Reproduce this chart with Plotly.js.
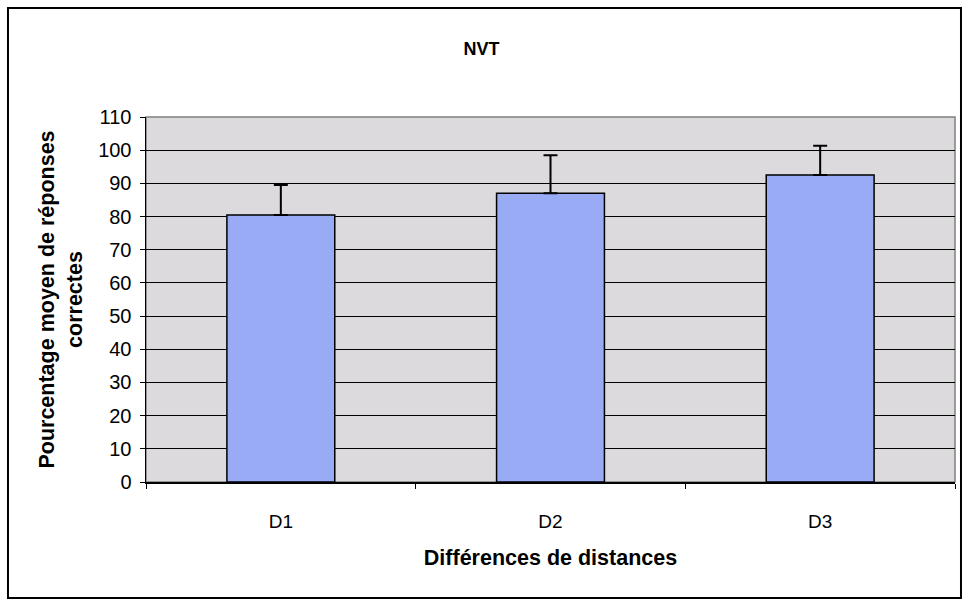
<!DOCTYPE html>
<html>
<head>
<meta charset="utf-8">
<script src="https://cdn.plot.ly/plotly-3.0.1.min.js"></script>
<style>html,body{margin:0;padding:0;background:#fff;}#chart{width:963px;height:601px;}</style>
</head>
<body>
<div id="chart"></div>
<script>
const categories = ["D1", "D2", "D3"];
const meanValues = [80.5, 87, 92.5];
const errorValues = [9, 11.5, 8.8];
const yTicks = [0, 10, 20, 30, 40, 50, 60, 70, 80, 90, 100, 110];

const trace = {
  type: "bar",
  x: categories,
  y: meanValues,
  marker: { color: "#9aabf6", line: { color: "#000000", width: 1.5 } },
  error_y: { type: "data", array: errorValues, symmetric: false, arrayminus: [0,0,0], visible: true, color: "#000000", thickness: 2, width: 7 },
  hoverinfo: "x+y"
};

const fontFam = "Liberation Sans, Arial, sans-serif";
const layout = {
  width: 963, height: 601,
  margin: { l: 146, r: 8, t: 117, b: 119 },
  paper_bgcolor: "#ffffff",
  plot_bgcolor: "#dcdadd",
  bargap: 0.6,
  showlegend: false,
  font: { family: fontFam, size: 18, color: "#000" },
  title: { text: "<b>NVT</b>", x: 0.5, xref: "container", xanchor: "center", y: 0.93, yref: "container", font: { size: 18, family: fontFam, color: "#000" } },
  xaxis: {
    type: "category",
    showline: true, linecolor: "#000", linewidth: 1.5,
    ticks: "outside", tickson: "boundaries", ticklen: 5, tickcolor: "#000",
    ticklabelstandoff: 22,
    tickfont: { size: 19, family: fontFam },
    showgrid: false,
    title: { text: "<b>Différences de distances</b>", font: { size: 21.5, family: fontFam }, standoff: 18 },
    mirror: false
  },
  yaxis: {
    range: [0, 110],
    tickvals: yTicks,
    ticktext: yTicks.map(String),
    tickfont: { size: 20, family: fontFam },
    ticklabelstandoff: 4,
    showline: true, linecolor: "#000", linewidth: 1.5,
    ticks: "outside", ticklen: 5, tickcolor: "#000",
    showgrid: true, gridcolor: "#000", gridwidth: 1,
    zeroline: false,
    title: { text: "<b>Pourcentage moyen de réponses<br>correctes</b>", font: { size: 21.5, family: fontFam }, standoff: 9 }
  },
  shapes: [
    { type: "rect", xref: "paper", yref: "paper", x0: 0, x1: 1, y0: 0, y1: 1, line: { color: "#808080", width: 1.5 }, fillcolor: "rgba(0,0,0,0)", layer: "below" },
    { type: "rect", xref: "paper", yref: "paper", x0: -0.1706, x1: 1.0074, y0: -0.3178, y1: 1.2986, line: { color: "#000", width: 2 }, fillcolor: "rgba(0,0,0,0)" }
  ]
};

Plotly.newPlot("chart", [trace], layout, { displayModeBar: false, staticPlot: true });
</script>
</body>
</html>
